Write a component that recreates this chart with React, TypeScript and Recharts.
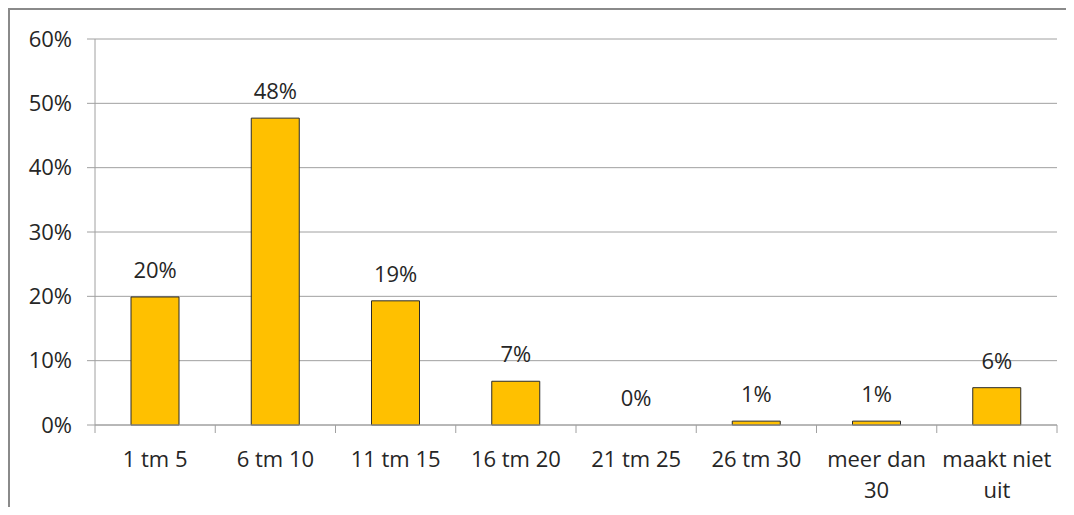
import { Bar, CartesianGrid, ComposedChart, LabelList, Line, XAxis, YAxis } from "recharts";

const categories = [
  "1 tm 5",
  "6 tm 10",
  "11 tm 15",
  "16 tm 20",
  "21 tm 25",
  "26 tm 30",
  "meer dan\n30",
  "maakt niet\nuit",
];
const shares = [19.9, 47.7, 19.3, 6.8, 0, 0.6, 0.6, 5.8];
const yTicks = [0, 10, 20, 30, 40, 50, 60];

const data = categories.map((name, i) => ({
  name,
  value: shares[i],
  label: `${Math.round(shares[i])}%`,
}));

const font = "'Open Sans', sans-serif";
const line = "#a0a0a0";
const ink = "#262626";

const W = 1056;
const H = 497;
const margin = { top: 29, right: 9, left: 0, bottom: 0 };
const yWidth = 85;

function CategoryTick(props: any) {
  const { x, y, payload, index, visibleTicksCount, width } = props;
  const count = visibleTicksCount || categories.length;
  const band = (typeof width === "number" ? width : W - yWidth - margin.right) / count;
  const lines = String(payload.value).split("\n");
  return (
    <g>
      <line x1={x - band / 2} x2={x - band / 2} y1={y} y2={y + 8} stroke={line} />
      {index === count - 1 && (
        <line x1={x + band / 2} x2={x + band / 2} y1={y} y2={y + 8} stroke={line} />
      )}
      {lines.map((t, i) => (
        <text
          key={i}
          x={x}
          y={y + 42 + i * 31}
          textAnchor="middle"
          fill={ink}
          fontSize={22}
          fontFamily={font}
        >
          {t}
        </text>
      ))}
    </g>
  );
}

export default function App() {
  return (
    <div
      style={{
        width: W,
        height: H,
        borderTop: "2px solid #8a8a8a",
        borderLeft: "2px solid #8a8a8a",
        overflow: "hidden",
        background: "#fff",
      }}
    >
      <ComposedChart width={W} height={H} data={data} margin={margin} barSize={48}>
        <CartesianGrid vertical={false} stroke={line} />
        <XAxis
          dataKey="name"
          axisLine={{ stroke: line }}
          tickLine={false}
          tickSize={0}
          tickMargin={0}
          height={H - 415}
          interval={0}
          tick={<CategoryTick />}
        />
        <YAxis
          domain={[0, 60]}
          ticks={yTicks}
          width={yWidth}
          axisLine={{ stroke: line }}
          tickLine={{ stroke: line }}
          tickSize={8}
          tickMargin={15}
          tickFormatter={(v: number) => `${v}%`}
          tick={{ fill: ink, fontSize: 22, fontFamily: font }}
        />
        <Bar dataKey="value" fill="#ffc000" stroke="#2b2b2b" strokeWidth={1} isAnimationActive={false} />
        {/* labels ride on an invisible line so the 0% bar keeps its label */}
        <Line
          dataKey="value"
          stroke="none"
          dot={false}
          activeDot={false}
          legendType="none"
          isAnimationActive={false}
        >
          <LabelList
            dataKey="label"
            position="top"
            offset={19}
            fill={ink}
            fontSize={22}
            fontFamily={font}
          />
        </Line>
      </ComposedChart>
    </div>
  );
}
